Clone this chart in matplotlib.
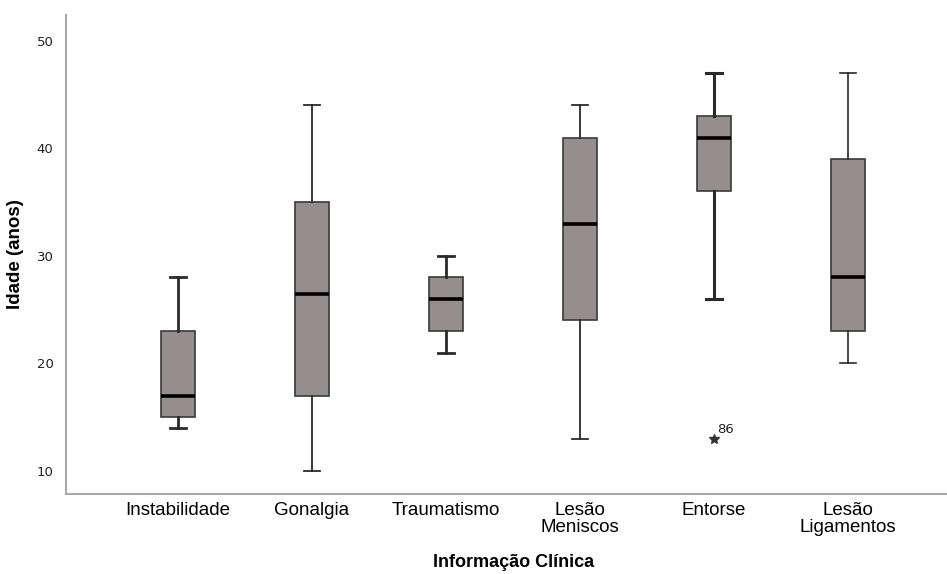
import matplotlib
matplotlib.use("Agg")
import matplotlib.pyplot as plt

# age summaries per clinical group (years)
grupos = ["Instabilidade", "Gonalgia", "Traumatismo", "Lesão\nMeniscos", "Entorse", "Lesão\nLigamentos"]
minimo = [14, 10, 21, 13, 26, 20]
q1 = [15, 17, 23, 24, 36, 23]
mediana = [17, 26.5, 26, 33, 41, 28]
q3 = [23, 35, 28, 41, 43, 39]
maximo = [28, 44, 30, 44, 47, 47]
extremos = [[], [], [], [], [13], []]
extremos_id = [[], [], [], [], ["86"], []]
espessura = [2.0, 1.3, 2.0, 1.3, 2.2, 1.2]

stats = []
for i in range(len(grupos)):
    stats.append(dict(whislo=minimo[i], q1=q1[i], med=mediana[i], q3=q3[i],
                      whishi=maximo[i], fliers=[]))

fig = plt.figure(figsize=(9.47, 5.74), dpi=100)
ax = fig.add_axes([0.0697, 0.1394, 0.9303, 0.8345])

pos = list(range(len(grupos)))
bp = ax.bxp(stats, positions=pos, widths=0.254, patch_artist=True, showfliers=False,
            boxprops=dict(facecolor="#958e8e", edgecolor="#3a3a3a", linewidth=1.2),
            medianprops=dict(color="black", linewidth=2.6),
            whiskerprops=dict(color="#2a2a2a"),
            capprops=dict(color="#2a2a2a"),
            capwidths=0.12)

for i in range(len(grupos)):
    for ln in bp["whiskers"][2*i:2*i+2] + bp["caps"][2*i:2*i+2]:
        ln.set_linewidth(espessura[i])

# extreme values marked with a star and the case number
for i in range(len(grupos)):
    for v, lab in zip(extremos[i], extremos_id[i]):
        ax.plot(pos[i], v, marker="*", color="#333333", markersize=7, linestyle="none")
        ax.annotate(lab, (pos[i], v), xytext=(2, 4), textcoords="offset points",
                    fontsize=9.5, color="#222222")

ax.set_xlim(-0.836, 5.739)
ax.set_ylim(7.86, 52.4)
ax.set_yticks([10, 20, 30, 40, 50])
ax.set_xticks(pos)
ax.set_xticklabels(grupos, fontsize=13.5, family="Liberation Sans", linespacing=0.95)
ax.tick_params(axis="y", length=0, pad=9, labelsize=9.5, labelcolor="#222222")
ax.tick_params(axis="x", length=0, pad=6)

for s in ["top", "right"]:
    ax.spines[s].set_visible(False)
for s in ["left", "bottom"]:
    ax.spines[s].set_color("#a8a8a8")
    ax.spines[s].set_linewidth(1.5)

ax.set_ylabel("Idade (anos)", fontsize=13.5, fontweight="bold", family="Liberation Sans", labelpad=9)
ax.set_xlabel("Informação Clínica", fontsize=13, fontweight="bold", family="Liberation Sans")
ax.xaxis.set_label_coords(0.508, -0.126)

fig.savefig("out.png", dpi=100)
